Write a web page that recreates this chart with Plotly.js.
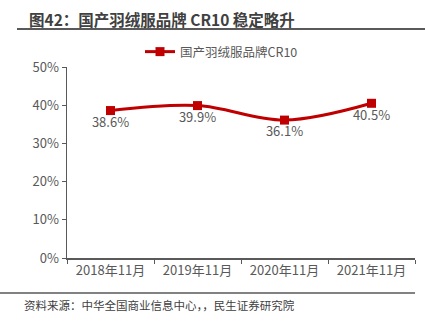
<!DOCTYPE html>
<html><head><meta charset="utf-8">
<script src="https://cdn.plot.ly/plotly-3.0.1.min.js"></script>
<style>html,body{margin:0;padding:0;background:#fff}#c{width:425px;height:330px}</style>
</head><body><div id="c"></div>
<script>
const categories = ["2018年11月","2019年11月","2020年11月","2021年11月"];
const cr10 = [0.386, 0.399, 0.361, 0.405];
const labels = ["38.6%","39.9%","36.1%","40.5%"];
const seriesName = "国产羽绒服品牌CR10";
const FONT = '"Noto Sans CJK SC", "Microsoft YaHei", sans-serif';
const trace = {
  x: categories, y: cr10, type: "scatter", mode: "lines+markers+text",
  name: seriesName,
  line: {color: "#C00000", width: 3, shape: "spline", smoothing: 1},
  marker: {symbol: "square", size: 9, color: "#C00000"},
  text: labels, textposition: "bottom center",
  textfont: {family: FONT, size: 13, color: "#595959"},
  cliponaxis: false
};
const px = v => (v - 67) / 348;
const py = v => (258 - v) / 191;
const layout = {
  width: 425, height: 330,
  margin: {l: 67, r: 10, t: 67, b: 72},
  paper_bgcolor: "#fff", plot_bgcolor: "#fff",
  font: {family: FONT, color: "#595959", size: 13},
  showlegend: true,
  legend: {orientation: "h", x: px(140), xanchor: "left", y: py(52), yanchor: "middle",
    font: {family: FONT, size: 12.5, color: "#595959"}},
  xaxis: {type: "category", range: [-0.5, 3.5], tickson: "boundaries", ticks: "outside", ticklen: 4,
    tickcolor: "#595959", showline: true, linecolor: "#595959", linewidth: 1.5,
    showgrid: false, tickfont: {size: 13, color: "#595959"}, zeroline: false},
  yaxis: {range: [0, 0.5], dtick: 0.1, tickformat: ".0%", ticks: "outside", ticklen: 4,
    tickcolor: "#595959", showline: true, linecolor: "#595959", linewidth: 1.5,
    showgrid: false, zeroline: false, tickfont: {size: 13, color: "#595959"}},
  shapes: [
    {type: "line", xref: "paper", yref: "paper", x0: px(17), x1: px(425), y0: py(29), y1: py(29),
      line: {color: "#595959", width: 2}},
    {type: "line", xref: "paper", yref: "paper", x0: px(0), x1: px(415), y0: py(293), y1: py(293),
      line: {color: "#595959", width: 1.5}}
  ],
  annotations: [
    {text: "<b>图42：国产羽绒服品牌 CR10 稳定略升</b>", xref: "paper", yref: "paper",
      x: px(27), y: py(19), xanchor: "left", yanchor: "middle", showarrow: false,
      font: {family: FONT, size: 15.5, color: "#404040"}},
    {text: "资料来源：中华全国商业信息中心，，民生证券研究院", xref: "paper", yref: "paper",
      x: px(22), y: py(305), xanchor: "left", yanchor: "middle", showarrow: false,
      font: {family: FONT, size: 11.5, color: "#404040"}}
  ]
};
Plotly.newPlot("c", [trace], layout, {displayModeBar: false, staticPlot: true});
</script></body></html>
